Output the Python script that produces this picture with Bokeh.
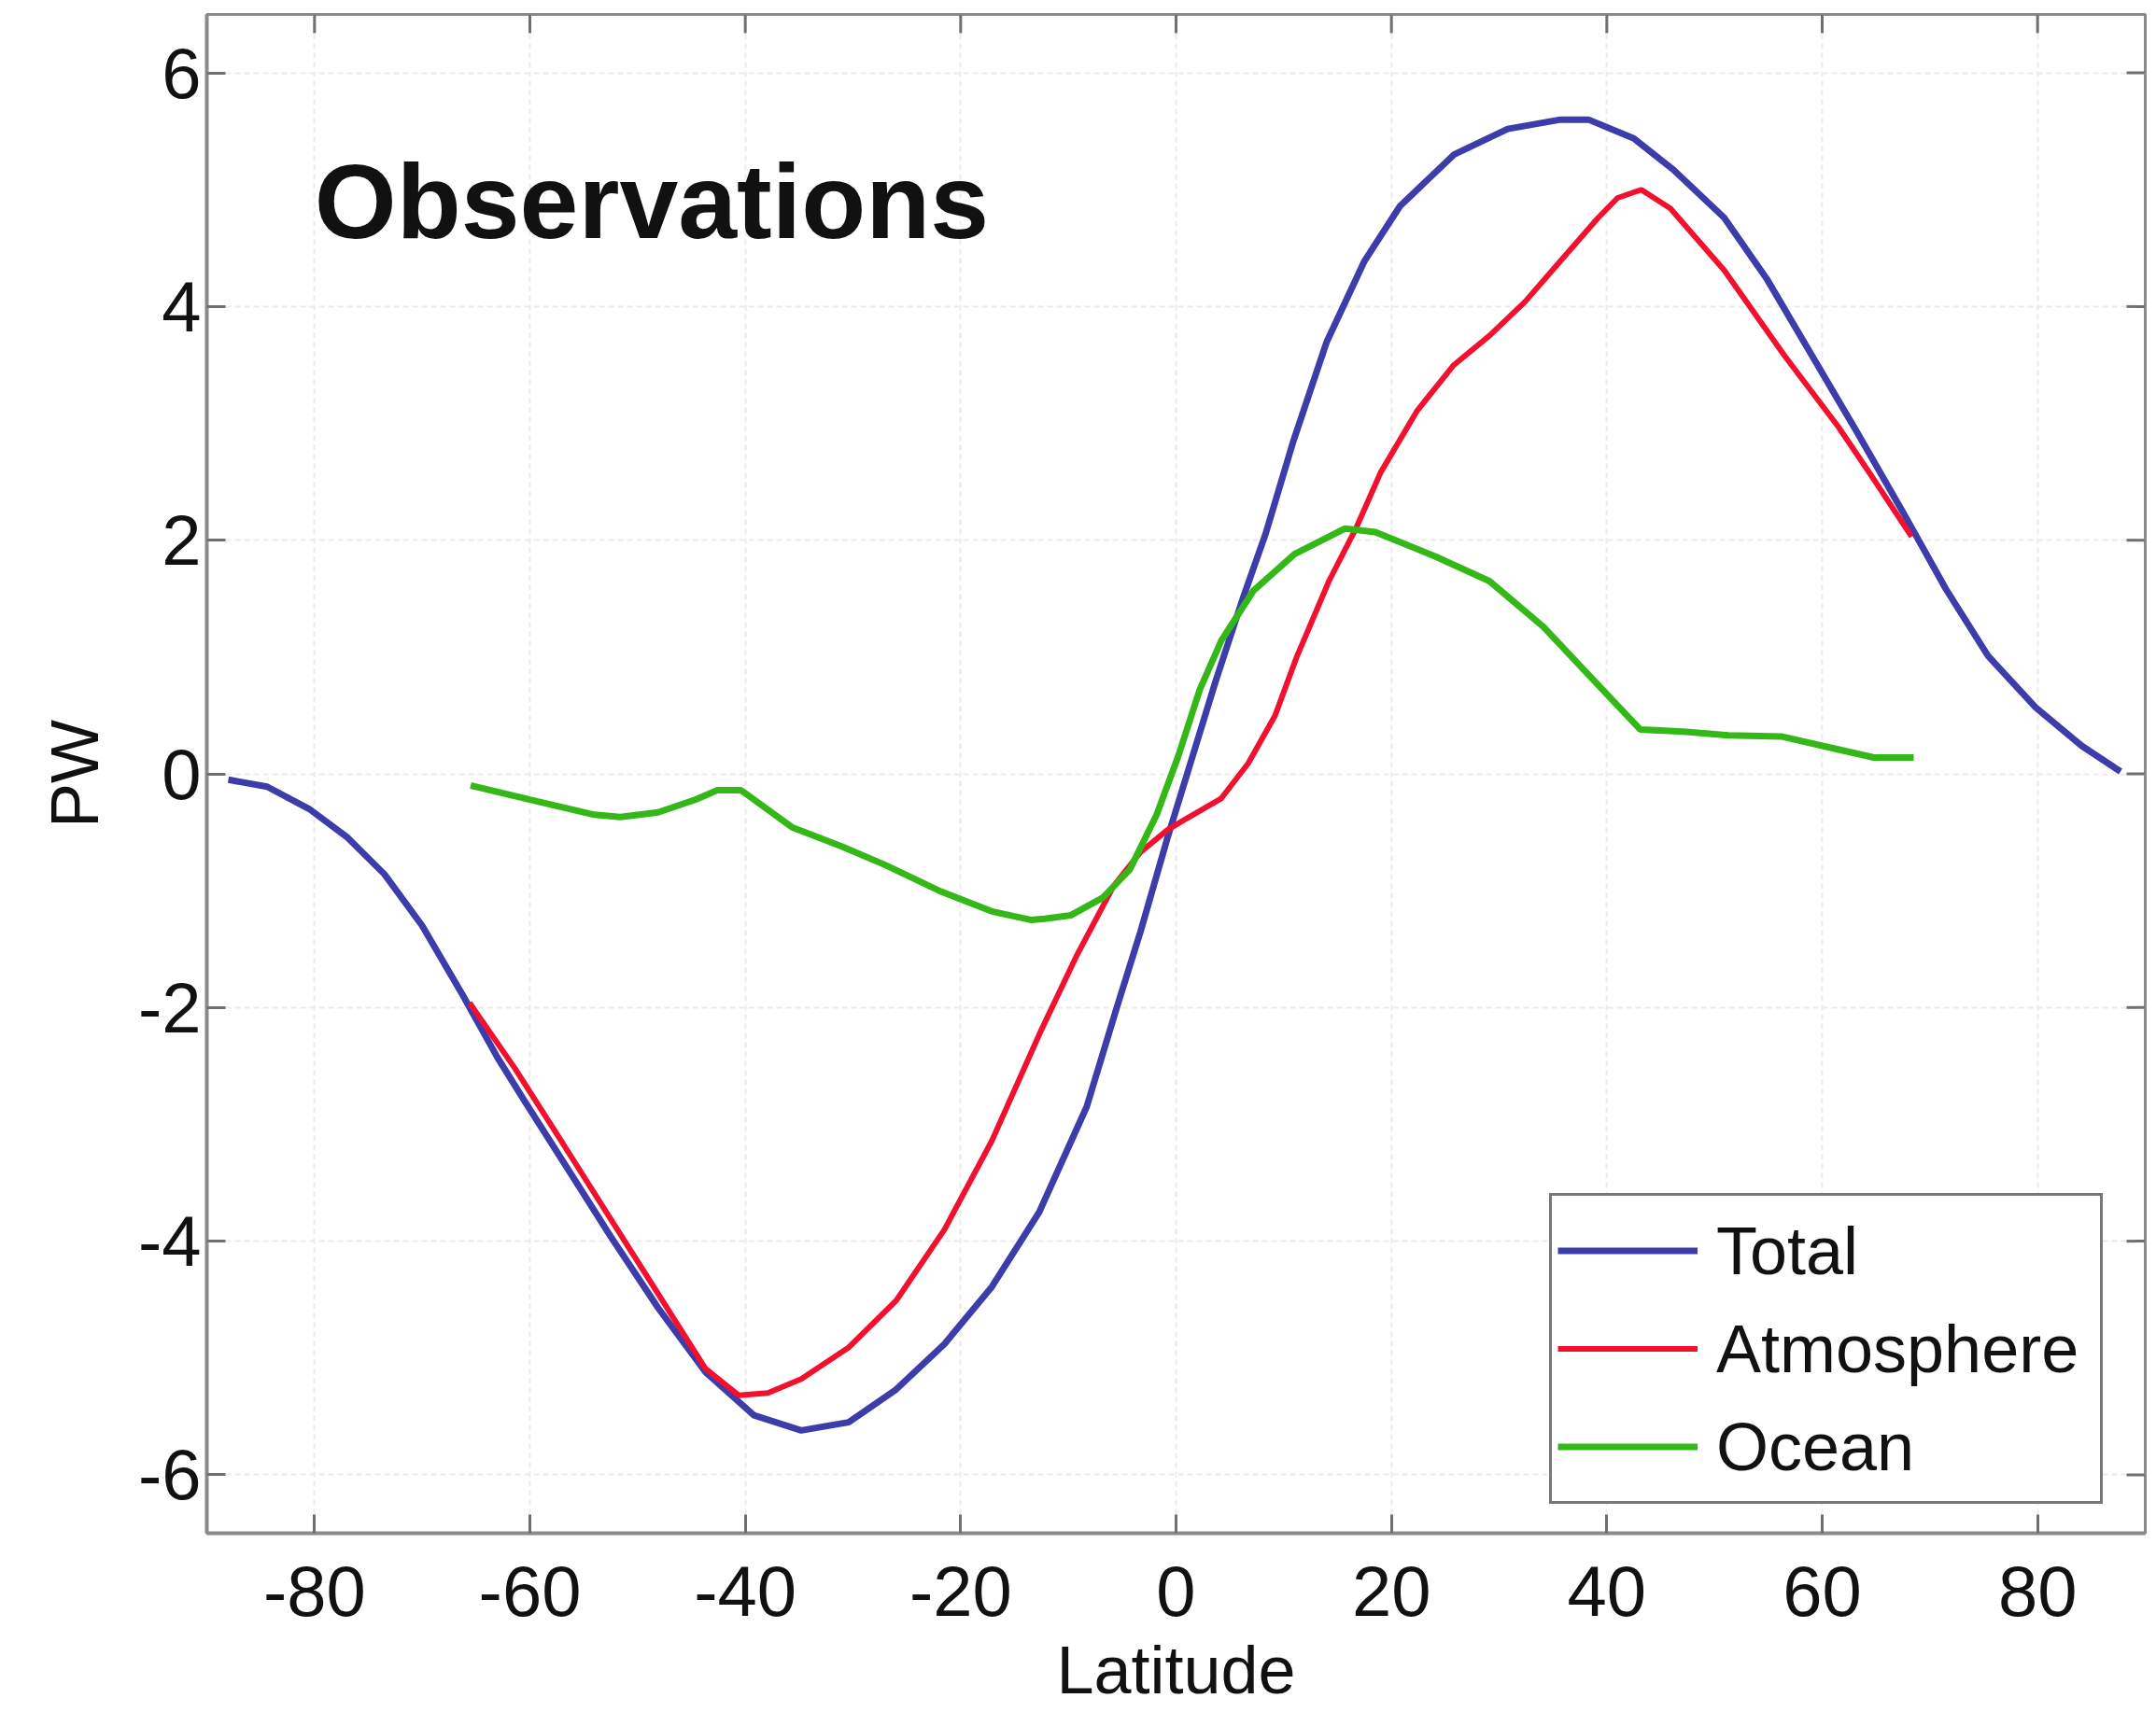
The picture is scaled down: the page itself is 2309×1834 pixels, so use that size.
from bokeh.plotting import figure
from bokeh.models import FixedTicker, Range1d, Label
from bokeh.embed import file_html
from bokeh.resources import INLINE

# ---------------- data ----------------
total_lat = [-88, -84.4, -80.5, -77, -73.5, -70, -66.2, -63, -60.5, -56.9, -52.5, -48.1,
             -43.7, -39.2, -34.8, -30.4, -26, -21.5, -17.1, -12.7, -8.3, -5.5, -3.3, -0.8,
             1.2, 3.7, 6.2, 8.3, 10.9, 14, 17.5, 20.8, 25.8, 30.8, 35.7, 38.3, 42.5, 46.2,
             50.9, 54.9, 58.8, 63.2, 67.5, 71.5, 75.4, 79.8, 84.1, 87.7]
total_pw = [-0.05, -0.11, -0.30, -0.54, -0.86, -1.30, -1.90, -2.43, -2.80, -3.32, -3.96, -4.57,
            -5.12, -5.49, -5.62, -5.55, -5.27, -4.88, -4.39, -3.75, -2.85, -2.0, -1.35, -0.55,
            0.05, 0.80, 1.50, 2.05, 2.85, 3.70, 4.39, 4.86, 5.30, 5.52, 5.60, 5.60, 5.44, 5.17,
            4.76, 4.23, 3.62, 2.93, 2.24, 1.58, 1.01, 0.57, 0.24, 0.02]

atm_lat = [-65.6, -61.4, -56.9, -52.5, -48.1, -43.7, -40.6, -37.9, -34.8, -30.4, -26, -21.5,
           -17.1, -12.5, -9.25, -5.8, -3.3, -0.8, 1.2, 4.2, 6.7, 9.2, 11.2, 14.2, 16.7, 19,
           22.4, 25.8, 29.1, 32.4, 35.7, 39.1, 41, 43.2, 45.9, 50.9, 56.5, 61.5, 64.8, 68.3]
atm_pw = [-1.96, -2.52, -3.17, -3.81, -4.45, -5.09, -5.32, -5.30, -5.18, -4.91, -4.51, -3.90,
          -3.14, -2.19, -1.56, -0.96, -0.67, -0.48, -0.37, -0.21, 0.09, 0.50, 1.00, 1.65, 2.10, 2.58,
          3.11, 3.50, 3.75, 4.04, 4.39, 4.75, 4.93, 5.00, 4.84, 4.31, 3.58, 2.97, 2.52, 2.03]

ocean_lat = [-65.5, -60, -54, -51.6, -48.1, -44.6, -42.6, -40.4, -35.6, -31.1, -27, -22, -17,
             -13.5, -12.2, -9.75, -6.8, -4.3, -1.8, 0.2, 2.2, 4.2, 7.2, 11, 15.7, 18.5, 24.1,
             29.1, 34.1, 39, 43.1, 47.4, 51.3, 56.2, 60.5, 64.8, 68.5]
ocean_pw = [-0.10, -0.22, -0.35, -0.37, -0.33, -0.22, -0.14, -0.14, -0.46, -0.62, -0.78, -1.00, -1.18,
            -1.25, -1.24, -1.21, -1.06, -0.82, -0.35, 0.15, 0.72, 1.14, 1.57, 1.88, 2.10, 2.07, 1.86,
            1.65, 1.26, 0.78, 0.38, 0.36, 0.33, 0.32, 0.23, 0.14, 0.14]

x_ticks = [-80, -60, -40, -20, 0, 20, 40, 60, 80]
y_ticks = [-6, -4, -2, 0, 2, 4, 6]
x_tick_labels = ["-80", "-60", "-40", "-20", "0", "20", "40", "60", "80"]
y_tick_labels = ["-6", "-4", "-2", "0", "2", "4", "6"]

series_names = ["Total", "Atmosphere", "Ocean"]
series_colors = ["#3c3caa", "#f2102e", "#34b818"]

title_text = "Observations"
x_label = "Latitude"
y_label = "PW"

FONT = "Liberation Sans"
AXIS_COLOR = "#8a8a8a"
TICK_COLOR = "#707070"

X0, X1 = -90, 90
Y0, Y1 = -6.5, 6.5
W, H = 2309, 1834
BL, BR, BT, BB = 221, 12, 15, 192
frame_w = W - BL - BR
frame_h = H - BT - BB
TICK_PX = 20
tick_dx = TICK_PX * (X1 - X0) / frame_w
tick_dy = TICK_PX * (Y1 - Y0) / frame_h

# ---------------- figure ----------------
p = figure(width=W, height=H,
           x_range=Range1d(X0, X1), y_range=Range1d(Y0, Y1),
           output_backend="svg", toolbar_location=None,
           min_border_left=BL, min_border_right=BR, min_border_top=BT, min_border_bottom=BB)
p.background_fill_color = "white"
p.border_fill_color = "white"
p.outline_line_color = AXIS_COLOR
p.outline_line_width = 3

for ax, ticks, labels in ((p.xaxis[0], x_ticks, x_tick_labels), (p.yaxis[0], y_ticks, y_tick_labels)):
    ax.ticker = FixedTicker(ticks=ticks)
    ax.major_label_overrides = {t: s for t, s in zip(ticks, labels)}
    ax.axis_line_color = AXIS_COLOR
    ax.axis_line_width = 4
    ax.major_tick_line_color = TICK_COLOR
    ax.major_tick_line_width = 3
    ax.major_tick_in = TICK_PX
    ax.major_tick_out = 0
    ax.minor_tick_line_color = None
    ax.major_label_text_font = FONT
    ax.major_label_text_font_size = "76px"
    ax.major_label_text_color = "#111111"
    ax.axis_label_text_font = FONT
    ax.axis_label_text_font_size = "72px"
    ax.axis_label_text_font_style = "normal"
    ax.axis_label_text_color = "#111111"

p.xaxis[0].axis_label = x_label
p.xaxis[0].major_label_standoff = 35
p.xaxis[0].axis_label_standoff = 15
p.yaxis[0].axis_label = y_label
p.yaxis[0].major_label_standoff = 6
p.yaxis[0].axis_label_standoff = 25

# mirror ticks on the top and right edges (MATLAB box style)
p.segment(x0=x_ticks, y0=[Y1] * len(x_ticks), x1=x_ticks, y1=[Y1 - tick_dy] * len(x_ticks),
          line_color=TICK_COLOR, line_width=3)
p.segment(x0=[X1] * len(y_ticks), y0=y_ticks, x1=[X1 - tick_dx] * len(y_ticks), y1=y_ticks,
          line_color=TICK_COLOR, line_width=3)

# grid
for g, ticks in ((p.xgrid[0], x_ticks), (p.ygrid[0], y_ticks)):
    g.ticker = FixedTicker(ticks=ticks)
    g.grid_line_color = "#efeaea"
    g.grid_line_width = 2
    g.grid_line_dash = "6 4"

# lines
p.line(total_lat, total_pw, line_color=series_colors[0], line_width=7, legend_label=series_names[0])
p.line(atm_lat, atm_pw, line_color=series_colors[1], line_width=6, legend_label=series_names[1])
p.line(ocean_lat, ocean_pw, line_color=series_colors[2], line_width=7, legend_label=series_names[2])

# title inside the axes
p.add_layout(Label(x=-80, y=4.9, text=title_text, text_font=FONT, text_font_style="bold",
                   text_font_size="113px", text_color="#111111", text_baseline="alphabetic"))

# legend
lg = p.legend[0]
lg.location = (1438, 31)
lg.label_text_font = FONT
lg.label_text_font_size = "72px"
lg.label_text_color = "#111111"
lg.glyph_width = 150
lg.glyph_height = 105
lg.label_height = 105
lg.label_width = 405
lg.label_standoff = 20
lg.spacing = 0
lg.padding = 6
lg.margin = 0
lg.border_line_color = "#777777"
lg.border_line_width = 3
lg.border_line_alpha = 1
lg.background_fill_alpha = 1

open("out.html", "w").write(file_html(p, INLINE))
